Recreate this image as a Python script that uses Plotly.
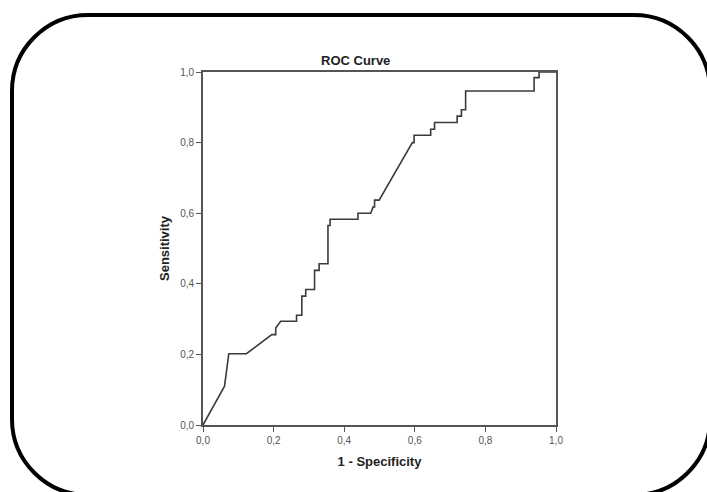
import plotly.graph_objects as go

# ROC curve coordinates (1 - specificity, sensitivity)
fpr = [0.0, 0.061, 0.073, 0.123, 0.195, 0.206, 0.206, 0.220, 0.265, 0.265, 0.280, 0.280,
       0.291, 0.291, 0.316, 0.316, 0.329, 0.329, 0.354, 0.354, 0.360, 0.360, 0.439, 0.439,
       0.475, 0.482, 0.486, 0.486, 0.499, 0.593, 0.598, 0.598, 0.645, 0.645, 0.656, 0.656,
       0.720, 0.720, 0.732, 0.732, 0.744, 0.744, 0.938, 0.938, 0.952, 0.952, 1.0]
tpr = [0.0, 0.110, 0.202, 0.202, 0.256, 0.256, 0.275, 0.294, 0.294, 0.311, 0.311, 0.365,
       0.365, 0.384, 0.384, 0.438, 0.438, 0.457, 0.457, 0.565, 0.565, 0.583, 0.583, 0.600,
       0.600, 0.618, 0.618, 0.637, 0.637, 0.800, 0.800, 0.821, 0.821, 0.838, 0.838, 0.857,
       0.857, 0.875, 0.875, 0.893, 0.893, 0.946, 0.946, 0.984, 0.984, 1.0, 1.0]

tick_vals = [0.0, 0.2, 0.4, 0.6, 0.8, 1.0]
tick_text = ["0,0", "0,2", "0,4", "0,6", "0,8", "1,0"]

W, H = 707, 492
L, R, T, B = 203, 151, 72, 67
PW, PH = W - L - R, H - T - B


def px_to_paper(x, y):
    return (x - L) / PW, (H - B - y) / PH


def rounded_rect_path(x0, y0, x1, y1, r):
    k = 0.5523 * r
    pts = []

    def P(x, y):
        px, py = px_to_paper(x, y)
        return f"{px:.5f},{py:.5f}"

    d = f"M{P(x0 + r, y0)} L{P(x1 - r, y0)} "
    d += f"C{P(x1 - r + k, y0)} {P(x1, y0 + r - k)} {P(x1, y0 + r)} "
    d += f"L{P(x1, y1 - r)} "
    d += f"C{P(x1, y1 - r + k)} {P(x1 - r + k, y1)} {P(x1 - r, y1)} "
    d += f"L{P(x0 + r, y1)} "
    d += f"C{P(x0 + r - k, y1)} {P(x0, y1 - r + k)} {P(x0, y1 - r)} "
    d += f"L{P(x0, y0 + r)} "
    d += f"C{P(x0, y0 + r - k)} {P(x0 + r - k, y0)} {P(x0 + r, y0)} Z"
    return d


fig = go.Figure()
fig.add_trace(go.Scatter(
    x=fpr, y=tpr, mode="lines",
    line=dict(color="#3a3a3a", width=1.6),
    hoverinfo="skip", showlegend=False,
))

axis_common = dict(
    range=[0, 1], tickvals=tick_vals, ticktext=tick_text,
    showgrid=False, zeroline=False,
    showline=True, linecolor="#555555", linewidth=1.6, mirror=True,
    ticks="outside", ticklen=5, tickwidth=1.2, tickcolor="#555555",
    tickfont=dict(family="Liberation Sans, Arial", size=10, color="#555555"),
    fixedrange=True,
)

fig.update_layout(
    width=W, height=H,
    margin=dict(l=L, r=R, t=T, b=B),
    paper_bgcolor="white", plot_bgcolor="white",
    xaxis=dict(**axis_common,
               title=dict(text="1 - Specificity", standoff=12,
                          font=dict(family="Liberation Sans, Arial", size=13,
                                    color="#222222", weight="bold"))),
    yaxis=dict(**axis_common,
               title=dict(text="Sensitivity", standoff=8,
                          font=dict(family="Liberation Sans, Arial", size=13,
                                    color="#222222", weight="bold"))),
    shapes=[dict(
        type="path", xref="paper", yref="paper",
        path=rounded_rect_path(12, 15, 710, 495, 76),
        line=dict(color="black", width=4),
        layer="above",
    )],
    annotations=[dict(
        text="ROC Curve", xref="paper", yref="paper",
        x=(355 - L) / PW, y=(H - B - 60) / PH,
        xanchor="center", yanchor="middle", showarrow=False,
        font=dict(family="Liberation Sans, Arial", size=13, color="#222222",
                  weight="bold"),
    )],
)

fig.write_html("out.html")
